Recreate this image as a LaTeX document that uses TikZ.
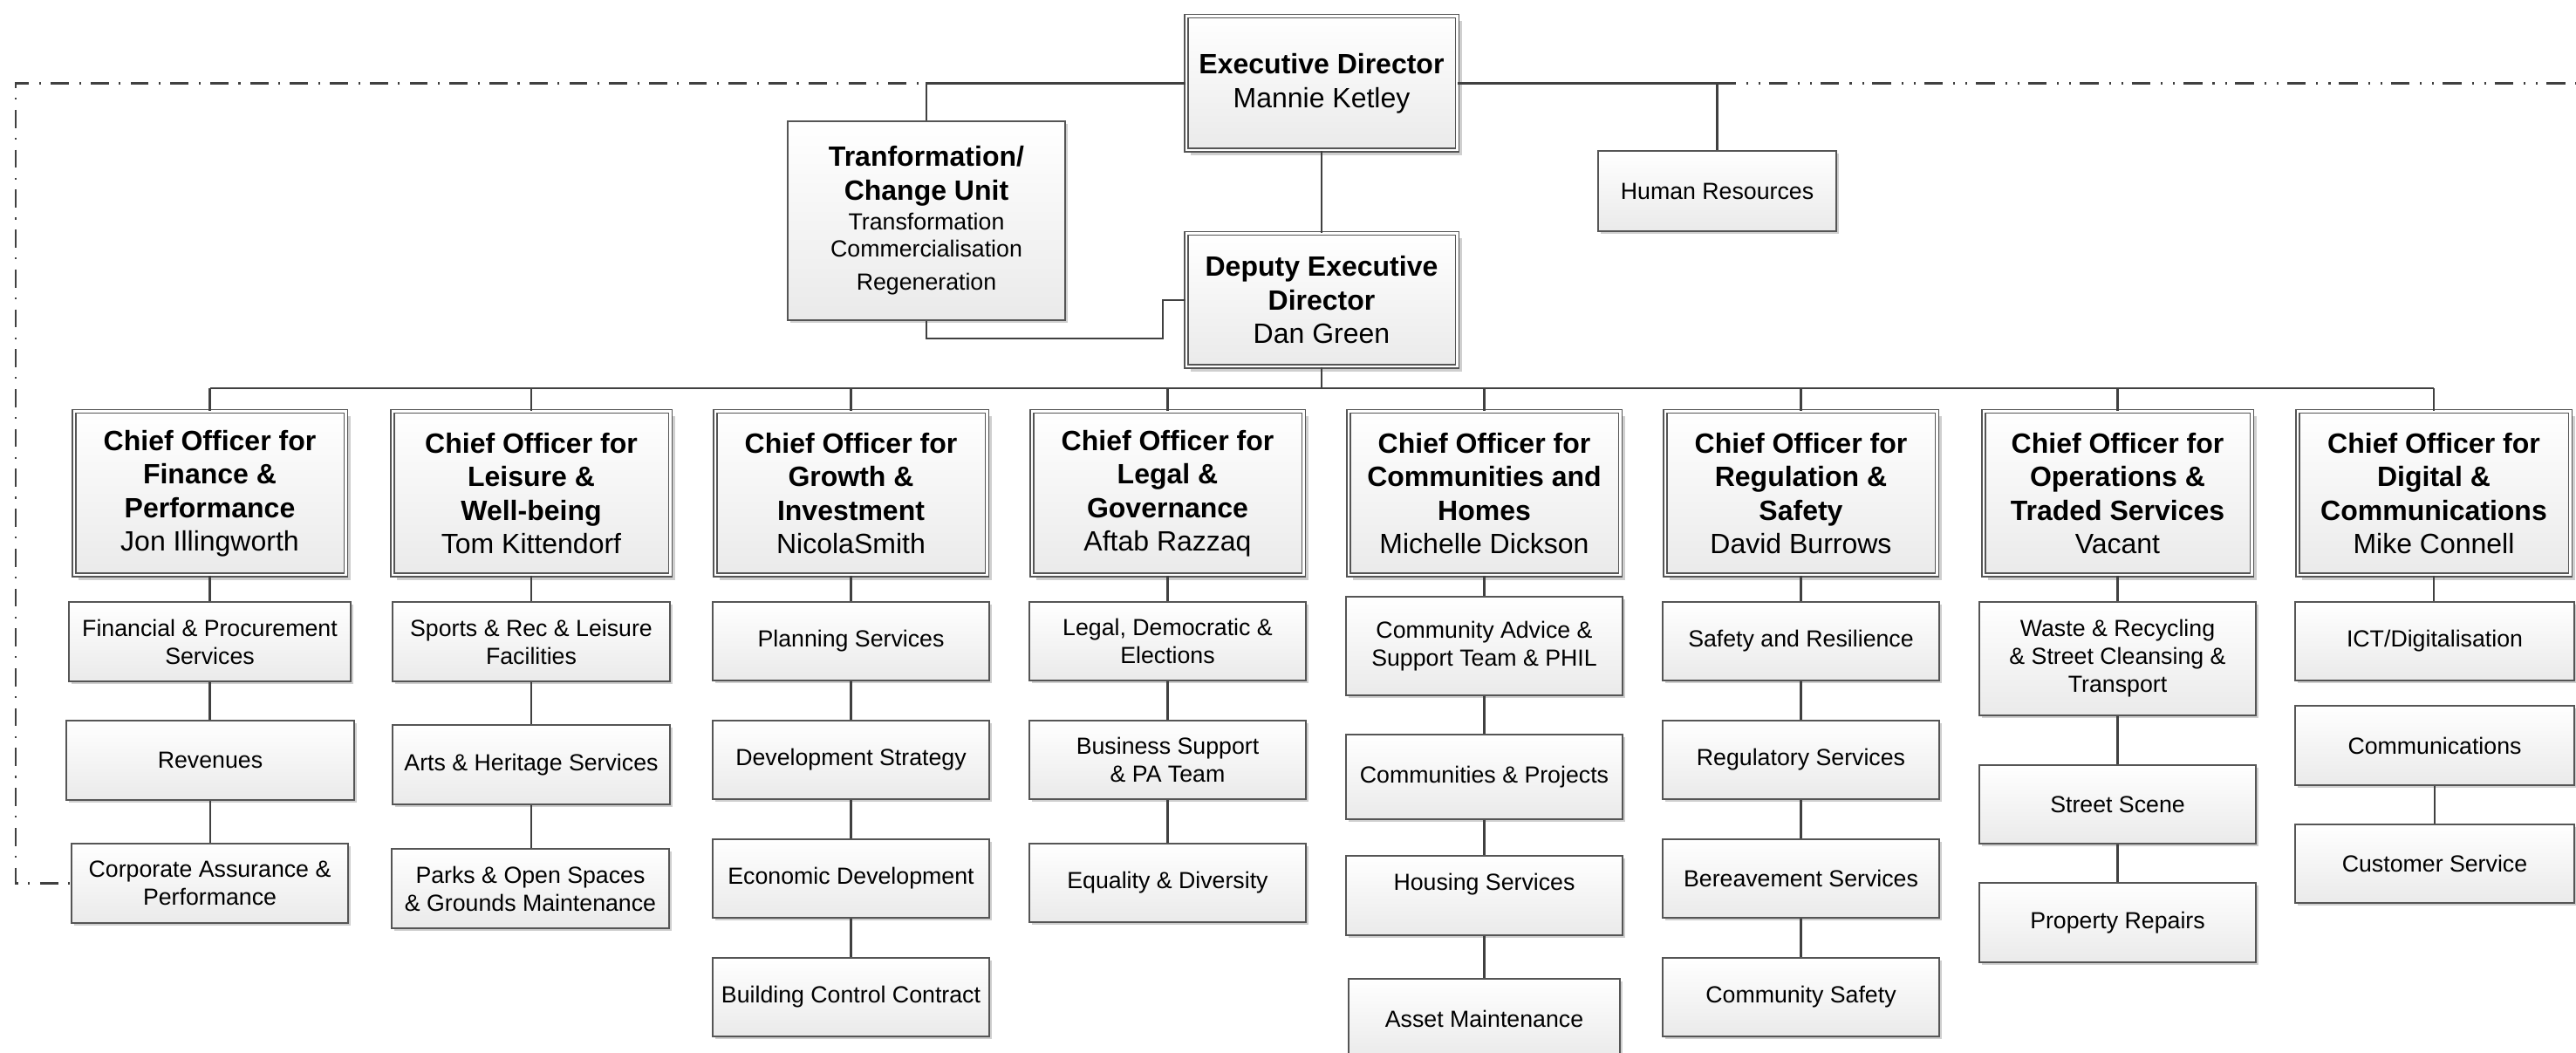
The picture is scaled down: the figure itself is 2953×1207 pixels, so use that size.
\documentclass[tikz,border=0pt]{standalone}
\usepackage{fontspec}
\setmainfont{Liberation Sans}
\usetikzlibrary{shadows,calc}
\definecolor{ln}{HTML}{404040}
\definecolor{bd}{HTML}{555555}
\definecolor{bot}{HTML}{EAEAEA}
\definecolor{shd}{HTML}{CFCFCF}
\newcommand\bigf{\fontsize{9.1pt}{10.95pt}\selectfont}
\newcommand\smf{\fontsize{7.6pt}{9.1pt}\selectfont}
\tikzset{
 boxbase/.style={draw=bd, line width=0.015cm, top color=white, bottom color=bot, inner sep=0pt, align=center},
 box/.style={boxbase, drop shadow={shadow xshift=0.03cm, shadow yshift=-0.03cm, fill=shd, opacity=1}},
 sub/.style={box, font=\smf},
 dbox/.style={boxbase, double=white, double distance=0.025cm, font=\bigf,
   drop shadow={shadow xshift=0.055cm, shadow yshift=-0.055cm, fill=shd, opacity=1}},
 sz/.style 2 args={minimum width=#1*0.01cm, minimum height=#2*0.01cm},
 dsz/.style 2 args={minimum width=(#1-5.5)*0.01cm, minimum height=(#2-5.5)*0.01cm},
 conn/.style={draw=ln, line width=0.024cm},
 ddot/.style={conn, dash pattern=on 5.9pt off 3.2pt on 0.6pt off 3.3pt},
 dddot/.style={conn, dash pattern=on 6.1pt off 3.4pt on 0.6pt off 3.4pt on 0.6pt off 2.8pt},
}
\begin{document}
\begin{tikzpicture}[x=0.01cm,y=-0.01cm]
\useasboundingbox (0,0) rectangle (2953,1207);
\fill[white] (0,0) rectangle (2953,1207);
\clip (0,0) rectangle (2953,1207);

% top level
\node[dbox, dsz={316}{159}] (exec) at (1515,95.5) {\textbf{Executive Director}\\Mannie Ketley};
\node[dbox, dsz={316}{158}] (dep) at (1515,344) {\textbf{Deputy Executive}\\\textbf{Director}\\Dan Green};
\node[box, sz={318}{228}, font=\bigf] (trans) at (1062,253)
  {\textbf{Tranformation/}\\\textbf{Change Unit}\\[-1.3pt]{\smf Transformation}\\[-2.1pt]{\smf Commercialisation}\\{\smf Regeneration}};
\node[sub, sz={273}{92}] (hr) at (1968.5,219) {Human Resources};

% chiefs
\node[dbox, dsz={317}{193}] (fin) at (240.5,565.5) {\textbf{Chief Officer for}\\\textbf{Finance \&}\\\textbf{Performance}\\Jon Illingworth};
\node[dbox, dsz={324}{193}] (lei) at (609,565.5) {\textbf{Chief Officer for}\\\textbf{Leisure \&}\\\textbf{Well-being}\\Tom Kittendorf};
\node[dbox, dsz={317}{193}] (gro) at (975.5,565.5) {\textbf{Chief Officer for}\\\textbf{Growth \&}\\\textbf{Investment}\\NicolaSmith};
\node[dbox, dsz={317}{193}] (leg) at (1338.5,565.5) {\textbf{Chief Officer for}\\\textbf{Legal \&}\\\textbf{Governance}\\Aftab Razzaq};
\node[dbox, dsz={317}{193}] (com) at (1701.5,565.5) {\textbf{Chief Officer for}\\\textbf{Communities and}\\\textbf{Homes}\\Michelle Dickson};
\node[dbox, dsz={317}{193}] (reg) at (2064.5,565.5) {\textbf{Chief Officer for}\\\textbf{Regulation \&}\\\textbf{Safety}\\David Burrows};
\node[dbox, dsz={313}{193}] (ops) at (2427.5,565.5) {\textbf{Chief Officer for}\\\textbf{Operations \&}\\\textbf{Traded Services}\\Vacant};
\node[dbox, dsz={318}{193}] (dig) at (2790,565.5) {\textbf{Chief Officer for}\\\textbf{Digital \&}\\\textbf{Communications}\\Mike Connell};

% finance
\node[sub, sz={323}{91}] (fp) at (240.5,735.5) {Financial \& Procurement\\Services};
\node[sub, sz={330}{91}] (rev) at (241,871.5) {Revenues};
\node[sub, sz={317}{91}] (corp) at (240.5,1012.5) {Corporate Assurance \&\\Performance};
% leisure
\node[sub, sz={318}{91}] (spo) at (609,735.5) {Sports \& Rec \& Leisure\\Facilities};
\node[sub, sz={318}{91}] (art) at (609,876.5) {Arts \& Heritage Services};
\node[sub, sz={318}{91}] (par) at (608,1018.5) {Parks \& Open Spaces\\\& Grounds Maintenance};
% growth
\node[sub, sz={317}{90}] (pla) at (975.5,735) {Planning Services};
\node[sub, sz={317}{90}] (dev) at (975.5,871) {Development Strategy};
\node[sub, sz={317}{90}] (eco) at (975.5,1007) {Economic Development};
\node[sub, sz={317}{90}] (bui) at (975.5,1143) {Building Control Contract};
% legal
\node[sub, sz={317}{90}] (lde) at (1338.5,735) {Legal, Democratic \&\\Elections};
\node[sub, sz={317}{90}] (bsp) at (1338.5,871) {Business Support\\\& PA Team};
\node[sub, sz={317}{90}] (equ) at (1338.5,1012) {Equality \& Diversity};
% communities
\node[sub, sz={317}{113}] (cad) at (1701.5,740.5) {Community Advice \&\\Support Team \& PHIL};
\node[sub, sz={317}{97}] (cpr) at (1701.5,890.5) {Communities \& Projects};
\node[sub, sz={317}{91}] (hou) at (1701.5,1026.5) {Housing Services\\\mbox{}};
\node[sub, sz={311}{92}] (ass) at (1701.5,1168) {Asset Maintenance};
% regulation
\node[sub, sz={317}{90}] (saf) at (2064.5,735) {Safety and Resilience};
\node[sub, sz={317}{90}] (rgs) at (2064.5,871) {Regulatory Services};
\node[sub, sz={317}{90}] (ber) at (2064.5,1007) {Bereavement Services};
\node[sub, sz={317}{90}] (csf) at (2064.5,1143) {Community Safety};
% operations
\node[sub, sz={317}{130}] (was) at (2427.5,755) {Waste \& Recycling\\\& Street Cleansing \&\\Transport};
\node[sub, sz={317}{90}] (str) at (2427.5,922) {Street Scene};
\node[sub, sz={317}{91}] (pro) at (2427.5,1057.5) {Property Repairs};
% digital
\node[sub, sz={320}{90}] (ict) at (2791,735) {ICT/Digitalisation};
\node[sub, sz={320}{91}] (cmm) at (2791,854.5) {Communications};
\node[sub, sz={320}{90}] (cus) at (2791,990) {Customer Service};

% dash-dot lines
\coordinate (dl) at (18,94.5);
\coordinate (dr) at (3050,94.5);
\draw[ddot] (exec.west) -- (exec.west -| dl) -- (dl |- corp.west) -- (corp.west);
\draw[dddot] (exec.east) -- (exec.east -| dr) -- (dr |- cmm.east) -- (cmm.east);

% solid connectors
\draw[conn] (trans.north) |- (exec.west);
\draw[conn] (hr.north) |- (exec.east);
\draw[conn] (exec.south) -- (dep.north);
\coordinate (tj) at (1333,388);
\draw[conn] (trans.south) |- (tj) |- (dep.west);
\coordinate (busy) at (0,445);
\draw[conn] (dep.south) -- (dep.south |- busy);
\draw[conn] (fin.north |- busy) -- (dig.north |- busy);
\foreach \n in {fin,lei,gro,leg,com,reg,ops,dig} \draw[conn] (\n.north) -- (\n.north |- busy);

\draw[conn] (fin.south) -- (fin.south |- fp.north) (fp.south) -- (fp.south |- rev.north) (rev.south) -- (rev.south |- corp.north);
\draw[conn] (lei.south) -- (lei.south |- spo.north) (spo.south) -- (spo.south |- art.north) (art.south) -- (art.south |- par.north);
\draw[conn] (gro.south) -- (gro.south |- pla.north) (pla.south) -- (pla.south |- dev.north) (dev.south) -- (dev.south |- eco.north) (eco.south) -- (eco.south |- bui.north);
\draw[conn] (leg.south) -- (leg.south |- lde.north) (lde.south) -- (lde.south |- bsp.north) (bsp.south) -- (bsp.south |- equ.north);
\draw[conn] (com.south) -- (com.south |- cad.north) (cad.south) -- (cad.south |- cpr.north) (cpr.south) -- (cpr.south |- hou.north) (hou.south) -- (hou.south |- ass.north);
\draw[conn] (reg.south) -- (reg.south |- saf.north) (saf.south) -- (saf.south |- rgs.north) (rgs.south) -- (rgs.south |- ber.north) (ber.south) -- (ber.south |- csf.north);
\draw[conn] (ops.south) -- (ops.south |- was.north) (was.south) -- (was.south |- str.north) (str.south) -- (str.south |- pro.north);
\draw[conn] (dig.south) -- (dig.south |- ict.north) (cmm.south) -- (cmm.south |- cus.north);
\end{tikzpicture}
\end{document}
